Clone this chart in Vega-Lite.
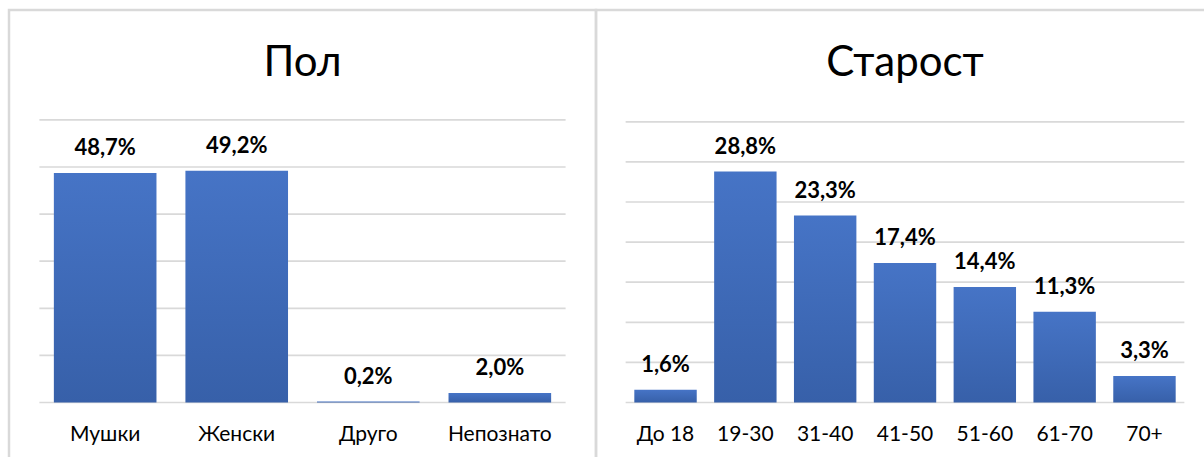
{
  "$schema": "https://vega.github.io/schema/vega-lite/v6.json",
  "padding": {"left": 7, "top": 8, "right": 0, "bottom": 0},
  "background": "white",
  "spacing": 0,
  "bounds": "flush",
  "config": {
    "font": "Lato",
    "view": {"stroke": "#d9d9d9", "strokeWidth": 2.5},
    "locale": {"number": {"decimal": ",", "thousands": " ", "grouping": [3], "currency": ["", ""]}}
  },
  "datasets": {
    "pol": [
      {"cat": "Мушки", "v": 0.487},
      {"cat": "Женски", "v": 0.492},
      {"cat": "Друго", "v": 0.002},
      {"cat": "Непознато", "v": 0.020}
    ],
    "starost": [
      {"cat": "До 18", "v": 0.016},
      {"cat": "19-30", "v": 0.288},
      {"cat": "31-40", "v": 0.233},
      {"cat": "41-50", "v": 0.174},
      {"cat": "51-60", "v": 0.144},
      {"cat": "61-70", "v": 0.113},
      {"cat": "70+", "v": 0.033}
    ],
    "gridPol": [{"g": 0}, {"g": 0.1}, {"g": 0.2}, {"g": 0.3}, {"g": 0.4}, {"g": 0.5}, {"g": 0.6}],
    "gridStarost": [{"g": 0}, {"g": 0.05}, {"g": 0.1}, {"g": 0.15}, {"g": 0.2}, {"g": 0.25}, {"g": 0.3}, {"g": 0.35}],
    "titlePol": [{"t": "Пол"}],
    "titleStarost": [{"t": "Старост"}]
  },
  "hconcat": [
    {
      "width": 587,
      "height": 460,
      "layer": [
        {
          "data": {"name": "gridPol"},
          "mark": {"type": "rule", "color": "#d9d9d9", "strokeWidth": 1.7},
          "encoding": {
            "y": {"field": "g", "type": "quantitative", "axis": null, "scale": {"domain": [-0.1433, 0.8333], "nice": false, "zero": false}},
            "x": {"datum": "Мушки", "bandPosition": -0.141, "type": "nominal",
              "scale": {"domain": ["Мушки", "Женски", "Друго", "Непознато"], "paddingInner": 0.22, "paddingOuter": 0.341},
              "axis": {"orient": "bottom", "offset": -68, "domain": false, "ticks": false, "grid": false, "title": null, "labelAngle": 0, "labelPadding": 21, "labelFontSize": 21, "labelColor": "#000000", "labelFont": "Lato"}},
            "x2": {"datum": "Непознато", "bandPosition": 1.141}
          }
        },
        {
          "data": {"name": "pol"},
          "mark": {"type": "bar", "color": {"gradient": "linear", "x1": 0, "y1": 0, "x2": 0, "y2": 1, "stops": [{"offset": 0, "color": "#4674c6"}, {"offset": 1, "color": "#3760a9"}]}},
          "encoding": {
            "x": {"field": "cat", "type": "nominal", "sort": null},
            "y": {"field": "v", "type": "quantitative", "axis": null}
          }
        },
        {
          "data": {"name": "pol"},
          "mark": {"type": "text", "baseline": "alphabetic", "dy": -18, "fontSize": 22, "fontWeight": "bold", "color": "#000000"},
          "encoding": {
            "x": {"field": "cat", "type": "nominal", "sort": null},
            "y": {"field": "v", "type": "quantitative", "axis": null},
            "text": {"field": "v", "type": "quantitative", "format": ".1%"}
          }
        },
        {
          "data": {"name": "titlePol"},
          "mark": {"type": "text", "baseline": "middle", "fontSize": 42, "color": "#000000"},
          "encoding": {
            "y": {"datum": 0.7208, "type": "quantitative", "axis": null},
            "text": {"field": "t", "type": "nominal"}
          }
        }
      ]
    },
    {
      "width": 618,
      "height": 460,
      "layer": [
        {
          "data": {"name": "gridStarost"},
          "mark": {"type": "rule", "color": "#d9d9d9", "strokeWidth": 1.7},
          "encoding": {
            "y": {"field": "g", "type": "quantitative", "axis": null, "scale": {"domain": [-0.0842, 0.4894], "nice": false, "zero": false}},
            "x": {"datum": "До 18", "bandPosition": -0.139, "type": "nominal",
              "scale": {"domain": ["До 18", "19-30", "31-40", "41-50", "51-60", "61-70", "70+"], "paddingInner": 0.218, "paddingOuter": 0.48},
              "axis": {"orient": "bottom", "offset": -68, "domain": false, "ticks": false, "grid": false, "title": null, "labelAngle": 0, "labelPadding": 21, "labelFontSize": 21, "labelColor": "#000000", "labelFont": "Lato"}},
            "x2": {"datum": "70+", "bandPosition": 1.139}
          }
        },
        {
          "data": {"name": "starost"},
          "mark": {"type": "bar", "color": {"gradient": "linear", "x1": 0, "y1": 0, "x2": 0, "y2": 1, "stops": [{"offset": 0, "color": "#4674c6"}, {"offset": 1, "color": "#3760a9"}]}},
          "encoding": {
            "x": {"field": "cat", "type": "nominal", "sort": null},
            "y": {"field": "v", "type": "quantitative", "axis": null}
          }
        },
        {
          "data": {"name": "starost"},
          "mark": {"type": "text", "baseline": "alphabetic", "dy": -18, "fontSize": 22, "fontWeight": "bold", "color": "#000000"},
          "encoding": {
            "x": {"field": "cat", "type": "nominal", "sort": null},
            "y": {"field": "v", "type": "quantitative", "axis": null},
            "text": {"field": "v", "type": "quantitative", "format": ".1%"}
          }
        },
        {
          "data": {"name": "titleStarost"},
          "mark": {"type": "text", "baseline": "middle", "fontSize": 42, "color": "#000000"},
          "encoding": {
            "y": {"datum": 0.4233, "type": "quantitative", "axis": null},
            "text": {"field": "t", "type": "nominal"}
          }
        }
      ]
    }
  ]
}
